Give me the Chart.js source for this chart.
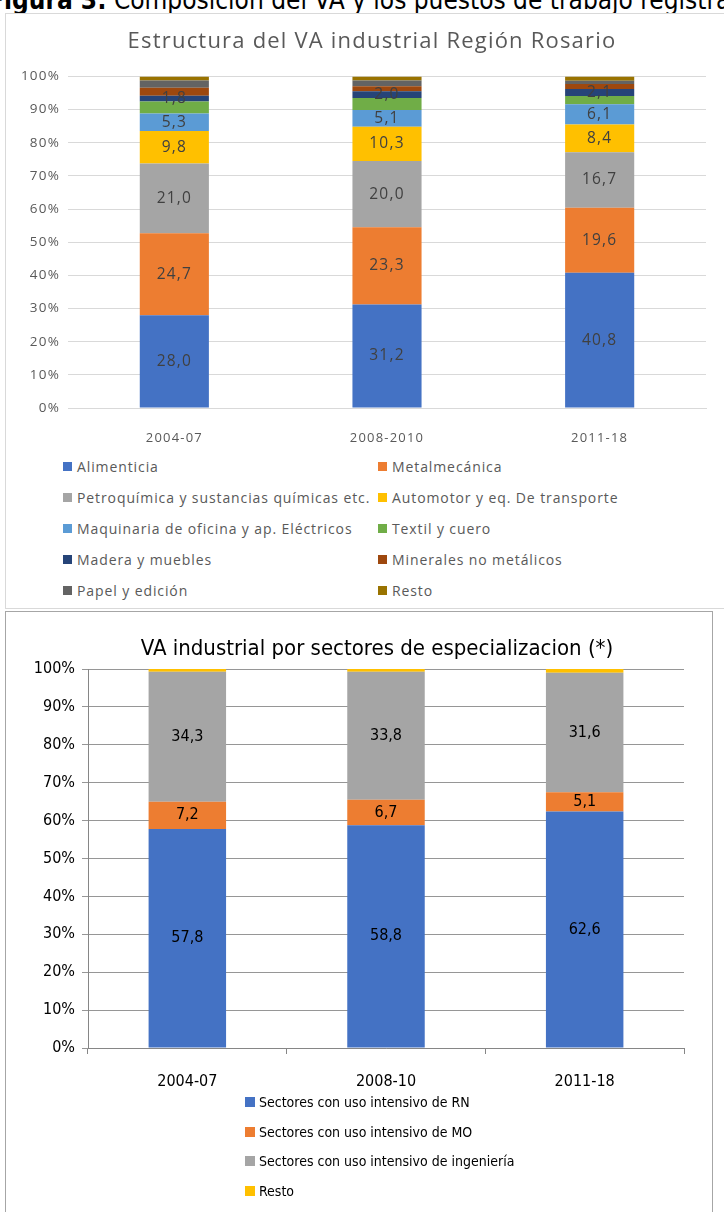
<!DOCTYPE html>
<html><head><meta charset="utf-8">
<script src="https://cdn.jsdelivr.net/npm/chart.js@4.4.0/dist/chart.umd.min.js"></script>
<style>
html,body{margin:0;padding:0;background:#fff;width:724px;height:1212px;overflow:hidden;position:relative}
#hdr{position:absolute;left:-12px;top:-15px;font-size:26px;line-height:30px;font-family:'Liberation Sans Narrow','DejaVu Sans Condensed',Roboto,sans-serif;white-space:nowrap;color:#000}
#box1{position:absolute;left:5px;top:13px;width:740px;height:596px;border:1px solid #d9d9d9;box-sizing:border-box;background:#fff}
#w1{position:absolute;left:0;top:0;width:718px;height:440px}
#box2{position:absolute;left:5px;top:611px;width:708px;height:620px;border:1px solid #a6a6a6;box-sizing:border-box}
#w2{position:absolute;left:0;top:0;width:706px;height:490px}
.li{position:absolute;white-space:nowrap;display:flex;align-items:center}
.li i{display:inline-block;width:9px;height:9px;margin-right:5px}
.l1{font-family:'Open Sans',sans-serif;font-size:14px;letter-spacing:0.9px;color:#595959}
.l2{font-family:'Liberation Sans Narrow','DejaVu Sans Condensed',Roboto,sans-serif;font-size:14px;color:#000}
.l2 i{width:10px;height:10px;margin-right:4px}
</style></head>
<body>
<div id="hdr"><b>Figura 3:</b> Composición del VA y los puestos de trabajo registrado</div>
<div id="box1"><div id="w1"><canvas id="c1"></canvas></div><div id="leg1"></div></div>
<div id="box2"><div id="w2"><canvas id="c2"></canvas></div><div id="leg2"></div></div>
<script>
// ---- Chart 1 data ----
const categories1 = ['2004-07', '2008-2010', '2011-18'];
const alimenticia   = [28.0, 31.2, 40.8];
const metalmecanica = [24.7, 23.3, 19.6];
const petroquimica  = [21.0, 20.0, 16.7];
const automotor     = [9.8, 10.3, 8.4];
const maquinaria    = [5.3, 5.1, 6.1];
const textil        = [3.6, 3.6, 2.5];
const madera        = [1.8, 2.0, 2.1];
const minerales     = [2.4, 1.5, 1.5];
const papel         = [2.2, 1.8, 1.0];
const resto1        = [1.2, 1.2, 1.3];
const seriesNames1 = ['Alimenticia','Metalmecánica','Petroquímica y sustancias químicas etc.','Automotor y eq. De transporte','Maquinaria de oficina y ap. Eléctricos','Textil y cuero','Madera y muebles','Minerales no metálicos','Papel y edición','Resto'];
const yTicks = [0,10,20,30,40,50,60,70,80,90,100];

// ---- Chart 2 data ----
const categories2 = ['2004-07', '2008-10', '2011-18'];
const intensivoRN  = [57.8, 58.8, 62.6];
const intensivoMO  = [7.2, 6.7, 5.1];
const intensivoIng = [34.3, 33.8, 31.6];
const resto2       = [0.7, 0.7, 1.0];
const seriesNames2 = ['Sectores con uso intensivo de RN','Sectores con uso intensivo de MO','Sectores con uso intensivo de ingeniería','Resto'];

const colors1 = ['#4472C4','#ED7D31','#A5A5A5','#FFC000','#5B9BD5','#70AD47','#264478','#9E480E','#636363','#997300'];
const colors2 = ['#4472C4','#ED7D31','#A5A5A5','#FFC000'];

const fmt = v => v.toFixed(1).replace('.', ',');
function pct(series){
  const n = series[0].length;
  const tot = [];
  for (let i=0;i<n;i++){ tot.push(series.reduce((s,a)=>s+a[i],0)); }
  return series.map(a => a.map((v,i)=> v/tot[i]*100));
}

function labelPlugin(id, showIdx, font, color, spacing, titleDx){
  return {
    id,
    afterLayout(chart){ const t = chart.titleBlock; if (t){ t.left += titleDx; t.right += titleDx; } },
    beforeDraw(chart){ if (spacing) chart.ctx.letterSpacing = spacing; },
    afterDatasetsDraw(chart){
      const ctx = chart.ctx;
      ctx.save();
      ctx.font = font; ctx.fillStyle = color;
      ctx.textAlign = 'center'; ctx.textBaseline = 'middle';
      showIdx.forEach(di=>{
        const meta = chart.getDatasetMeta(di);
        const raw = chart.data.datasets[di].raw;
        meta.data.forEach((el,i)=>{
          ctx.fillText(fmt(raw[i]), el.x, (el.y+el.base)/2);
        });
      });
      ctx.restore();
    }
  };
}

const raw1 = [alimenticia, metalmecanica, petroquimica, automotor, maquinaria, textil, madera, minerales, papel, resto1];
const p1 = pct(raw1);
const ds1 = raw1.map((a,k)=>({label: seriesNames1[k], data: p1[k], raw: a, backgroundColor: colors1[k], borderWidth:0, barPercentage:0.325, categoryPercentage:1}));

new Chart(document.getElementById('c1'), {
  type:'bar',
  data:{labels:categories1, datasets:ds1},
  options:{
    responsive:true, maintainAspectRatio:false, animation:false,
    layout:{padding:{left:0,right:18,top:0,bottom:0}},
    plugins:{
      legend:{display:false}, tooltip:{enabled:false},
      title:{display:true, text:'Estructura del VA industrial Región Rosario', color:'#595959',
        font:{family:'Open Sans', size:22, weight:'normal'}, padding:{top:15,bottom:21}}
    },
    scales:{
      x:{stacked:true, grid:{display:false}, border:{display:true,color:'#d9d9d9'},
         ticks:{color:'#595959', font:{family:'Open Sans', size:13}, padding:14},
         afterFit(s){ s.height = 46; }},
      y:{stacked:true, min:0, max:100, afterBuildTicks(s){ s.ticks = yTicks.map(v=>({value:v})); },
         grid:{color:'#d9d9d9', drawTicks:false}, border:{display:false},
         ticks:{color:'#595959', font:{family:'Open Sans', size:13.5}, padding:8, callback:v=>v+'%'},
         afterFit(s){ s.width = 62; }}
    }
  },
  plugins:[labelPlugin('lab1',[0,1,2,3,4,6],'15.5px "Open Sans"','#404040','1.2px',16)]
});

const leg1 = document.getElementById('leg1');
seriesNames1.forEach((n,k)=>{
  const d = document.createElement('div');
  d.className='li l1';
  d.style.left = (k%2===0 ? 57 : 372)+'px';
  d.style.top = (443 + Math.floor(k/2)*31)+'px';
  d.innerHTML = '<i style="background:'+colors1[k]+'"></i>'+n;
  leg1.appendChild(d);
});

const raw2 = [intensivoRN, intensivoMO, intensivoIng, resto2];
const p2 = pct(raw2);
const ds2 = raw2.map((a,k)=>({label: seriesNames2[k], data: p2[k], raw: a, backgroundColor: colors2[k], borderWidth:0, barPercentage:0.39, categoryPercentage:1}));
const narrow = "'Liberation Sans Narrow','DejaVu Sans Condensed',Roboto,sans-serif";
new Chart(document.getElementById('c2'), {
  type:'bar',
  data:{labels:categories2, datasets:ds2},
  options:{
    responsive:true, maintainAspectRatio:false, animation:false,
    layout:{padding:{left:0,right:28,top:0,bottom:0}},
    plugins:{
      legend:{display:false}, tooltip:{enabled:false},
      title:{display:true, text:'VA industrial por sectores de especializacion (*)', color:'#000',
        font:{family:narrow, size:22, weight:'normal'}, padding:{top:23.6,bottom:7}}
    },
    scales:{
      x:{stacked:true, grid:{display:true, drawOnChartArea:false, drawTicks:true, tickLength:6, offset:true, color:'#868686'},
         border:{display:true,color:'#868686'},
         ticks:{color:'#000', font:{family:narrow, size:16}, padding:18},
         afterFit(s){ s.height = 54; }},
      y:{stacked:true, min:0, max:100, afterBuildTicks(s){ s.ticks = yTicks.map(v=>({value:v})); },
         grid:{color:'#969696', drawTicks:true, tickLength:6}, border:{display:true,color:'#868686'},
         ticks:{color:'#000', font:{family:narrow, size:16}, padding:7, callback:v=>v+'%'},
         afterFit(s){ s.width = 82; }}
    }
  },
  plugins:[labelPlugin('lab2',[0,1,2],'16px '+narrow,'#000',null,32)]
});

const leg2 = document.getElementById('leg2');
seriesNames2.forEach((n,k)=>{
  const d = document.createElement('div');
  d.className='li l2';
  d.style.left = '239px';
  d.style.top = (482 + k*29.7)+'px';
  d.innerHTML = '<i style="background:'+colors2[k]+'"></i>'+n;
  leg2.appendChild(d);
});
</script>
</body></html>
